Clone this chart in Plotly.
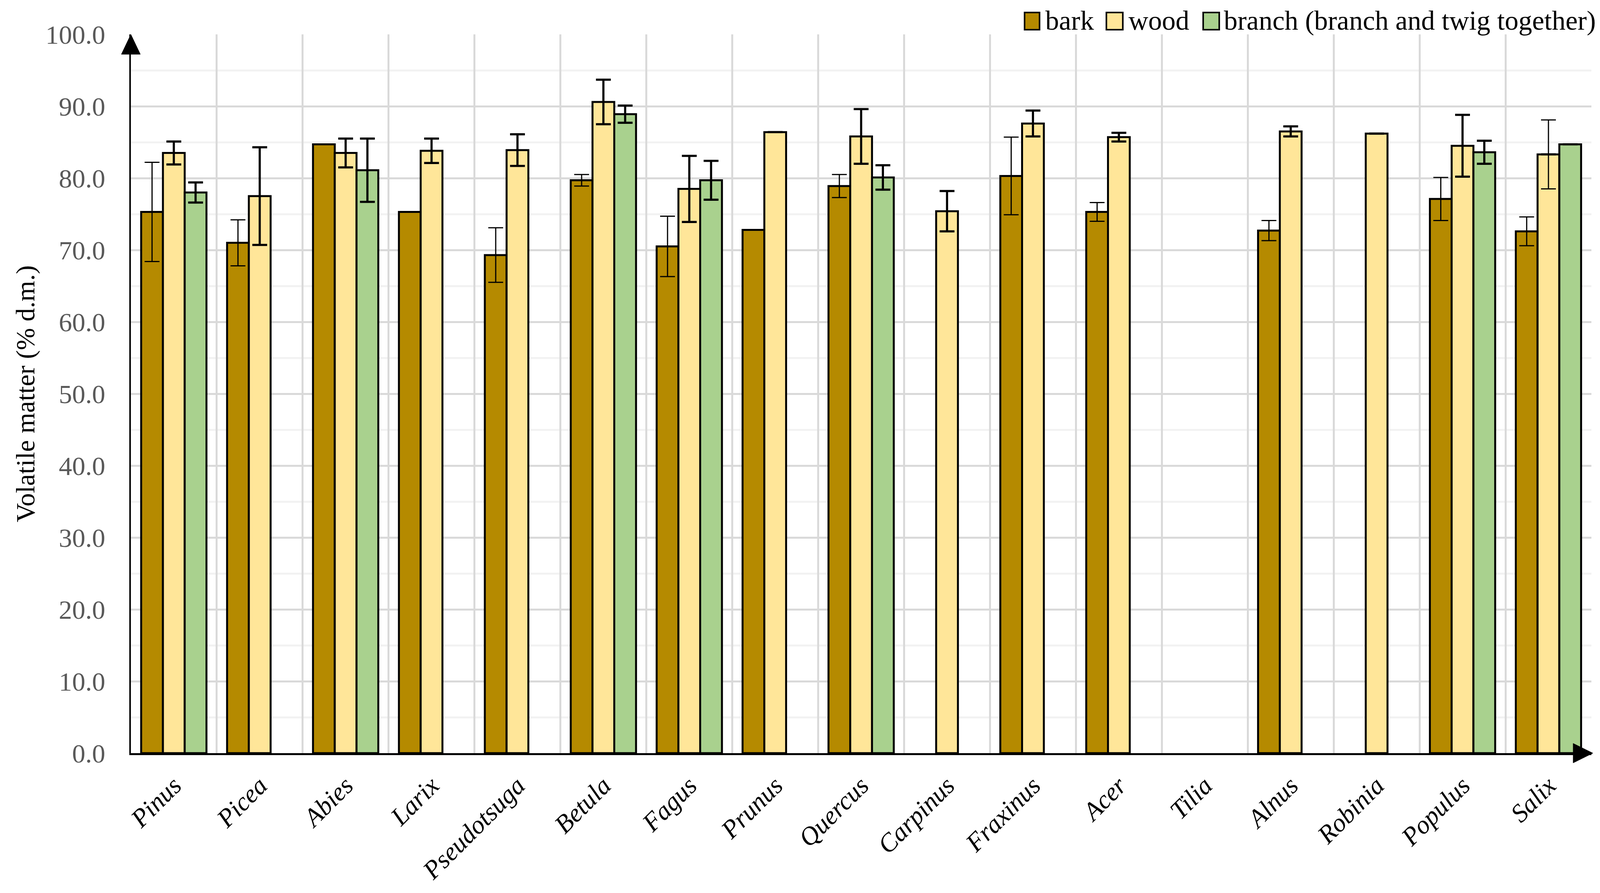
import plotly.graph_objects as go

# ---------------- data ----------------
categories = ["Pinus", "Picea", "Abies", "Larix", "Pseudotsuga", "Betula", "Fagus",
              "Prunus", "Quercus", "Carpinus", "Fraxinus", "Acer", "Tilia", "Alnus",
              "Robinia", "Populus", "Salix"]

series_names = ["bark", "wood", "branch (branch and twig together)"]

bark = [75.3, 71.0, 84.7, 75.3, 69.3, 79.7, 70.5, 72.8, 78.9, None, 80.3, 75.3,
        None, 72.7, None, 77.1, 72.6]
bark_sd = [6.9, 3.2, 0, 0, 3.8, 0.8, 4.2, 0, 1.6, None, 5.4, 1.3,
           None, 1.4, None, 3.0, 2.0]

wood = [83.5, 77.5, 83.5, 83.8, 83.9, 90.6, 78.5, 86.4, 85.8, 75.4, 87.6, 85.7,
        None, 86.5, 86.2, 84.5, 83.3]
wood_sd = [1.6, 6.8, 2.0, 1.7, 2.2, 3.1, 4.6, 0, 3.8, 2.8, 1.8, 0.6,
           None, 0.7, 0, 4.3, 4.8]
wood_thin_err = ["Salix"]  # categories whose wood error bar is drawn thin

branch = [78.0, None, 81.1, None, None, 88.9, 79.7, None, 80.1, None, None, None,
          None, None, None, 83.6, 84.7]
branch_sd = [1.4, None, 4.4, None, None, 1.2, 2.7, None, 1.7, None, None, None,
             None, None, None, 1.6, 0]

y_ticks = [0, 10, 20, 30, 40, 50, 60, 70, 80, 90, 100]
y_title = "Volatile matter (% d.m.)"

colors = ["#B58A00", "#FFE699", "#A9D18E"]

# ---------------- geometry ----------------
# the page viewport is 4096x2286 with an 8px body margin
W, H = 4080, 2270
SX = 4096 / 4381.0          # horizontal mapping from reference pixels


def fx(xr):                 # reference x pixel -> figure pixel
    return xr * SX - 8


def fy(yr):                 # reference y pixel -> figure pixel
    return yr - 8


ML = fx(358)
MR = W - fx(4357)
MT = fy(88)
MB = H - fy(1928)
PW, PH = W - ML - MR, H - MT - MB
FONT = "Liberation Serif"
FS = 68


def px_x(xr):
    return (fx(xr) - ML) / PW


def px_y(yr):
    return (H - MB - fy(yr)) / PH


wood_main_sd = [0 if c in wood_thin_err else s for c, s in zip(categories, wood_sd)]
wood_thin_y = [v if c in wood_thin_err else None for c, v in zip(categories, wood)]
wood_thin_sd = [s if c in wood_thin_err else None for c, s in zip(categories, wood_sd)]

fig = go.Figure()

fig.add_trace(go.Bar(
    x=categories, y=bark, name=series_names[0], offsetgroup="1",
    marker=dict(color=colors[0], line=dict(color="black", width=5)),
    error_y=dict(type="data", array=bark_sd, visible=True, color="black",
                 thickness=3, width=19),
    showlegend=False,
))
fig.add_trace(go.Bar(
    x=categories, y=wood, name=series_names[1], offsetgroup="2",
    marker=dict(color=colors[1], line=dict(color="black", width=5)),
    error_y=dict(type="data", array=wood_main_sd, visible=True, color="black",
                 thickness=5.5, width=19),
    showlegend=False,
))
fig.add_trace(go.Bar(
    x=categories, y=branch, name=series_names[2], offsetgroup="3",
    marker=dict(color=colors[2], line=dict(color="black", width=5)),
    error_y=dict(type="data", array=branch_sd, visible=True, color="black",
                 thickness=5.5, width=19),
    showlegend=False,
))
# thin error bar overlay for selected wood bars
fig.add_trace(go.Bar(
    x=categories, y=wood_thin_y, name=series_names[1], offsetgroup="2",
    marker=dict(color="rgba(0,0,0,0)", line=dict(width=0)),
    error_y=dict(type="data", array=wood_thin_sd, visible=True, color="black",
                 thickness=3, width=19),
    showlegend=False, hoverinfo="skip",
))

shapes = []
# axis arrows
hw = 26 * SX / PW
shapes.append(dict(type="path", xref="paper", yref="paper",
                   path=f"M {-hw},{px_y(139)} L {hw},{px_y(139)} L 0,1 Z",
                   fillcolor="black", line=dict(color="black", width=1)))
hh = 25 / PH
shapes.append(dict(type="path", xref="paper", yref="paper",
                   path=f"M {px_x(4307)},{-hh} L {px_x(4307)},{hh} L {px_x(4361)},0 Z",
                   fillcolor="black", line=dict(color="black", width=1)))

# manual legend (large swatches)
sw_x = [(2805, 2846), (3029, 3074), (3294, 3338)]
txt_x = [2860, 3087, 3348]
annotations = []
for (x0, x1), tx, name, col in zip(sw_x, txt_x, series_names, colors):
    shapes.append(dict(type="rect", xref="paper", yref="paper",
                       x0=px_x(x0), x1=px_x(x1), y0=px_y(76), y1=px_y(32),
                       fillcolor=col, line=dict(color="black", width=4)))
    annotations.append(dict(xref="paper", yref="paper", x=px_x(tx), y=px_y(52),
                            xanchor="left", yanchor="middle", showarrow=False,
                            text=name, font=dict(family=FONT, size=70, color="black")))

fig.update_layout(
    width=W, height=H,
    margin=dict(l=ML, r=MR, t=MT, b=MB, autoexpand=False),
    paper_bgcolor="white", plot_bgcolor="white",
    font=dict(family=FONT, size=FS, color="black"),
    barmode="group", bargap=0.24, bargroupgap=0,
    showlegend=False,
    shapes=shapes, annotations=annotations,
    xaxis=dict(
        type="category", categoryorder="array", categoryarray=categories,
        tickson="boundaries", showgrid=True, gridcolor="#D9D9D9", gridwidth=5,
        showline=True, linecolor="black", linewidth=5,
        ticks="", tickangle=-45, ticklabelstandoff=13,
        tickfont=dict(family=FONT, size=66, color="black", style="italic"),
        automargin=False,
    ),
    yaxis=dict(
        range=[0, 100], tickvals=y_ticks, tickformat=".1f",
        showgrid=True, gridcolor="#D9D9D9", gridwidth=5,
        minor=dict(dtick=5, showgrid=True, gridcolor="#F2F2F2", gridwidth=5),
        showline=True, linecolor="black", linewidth=4, zeroline=False,
        ticks="", ticklabelstandoff=48,
        tickfont=dict(family=FONT, size=FS, color="#595959"),
        title=dict(text=y_title, font=dict(family=FONT, size=FS, color="black"),
                   standoff=7),
        automargin=False,
    ),
)

fig.write_html("out.html")
